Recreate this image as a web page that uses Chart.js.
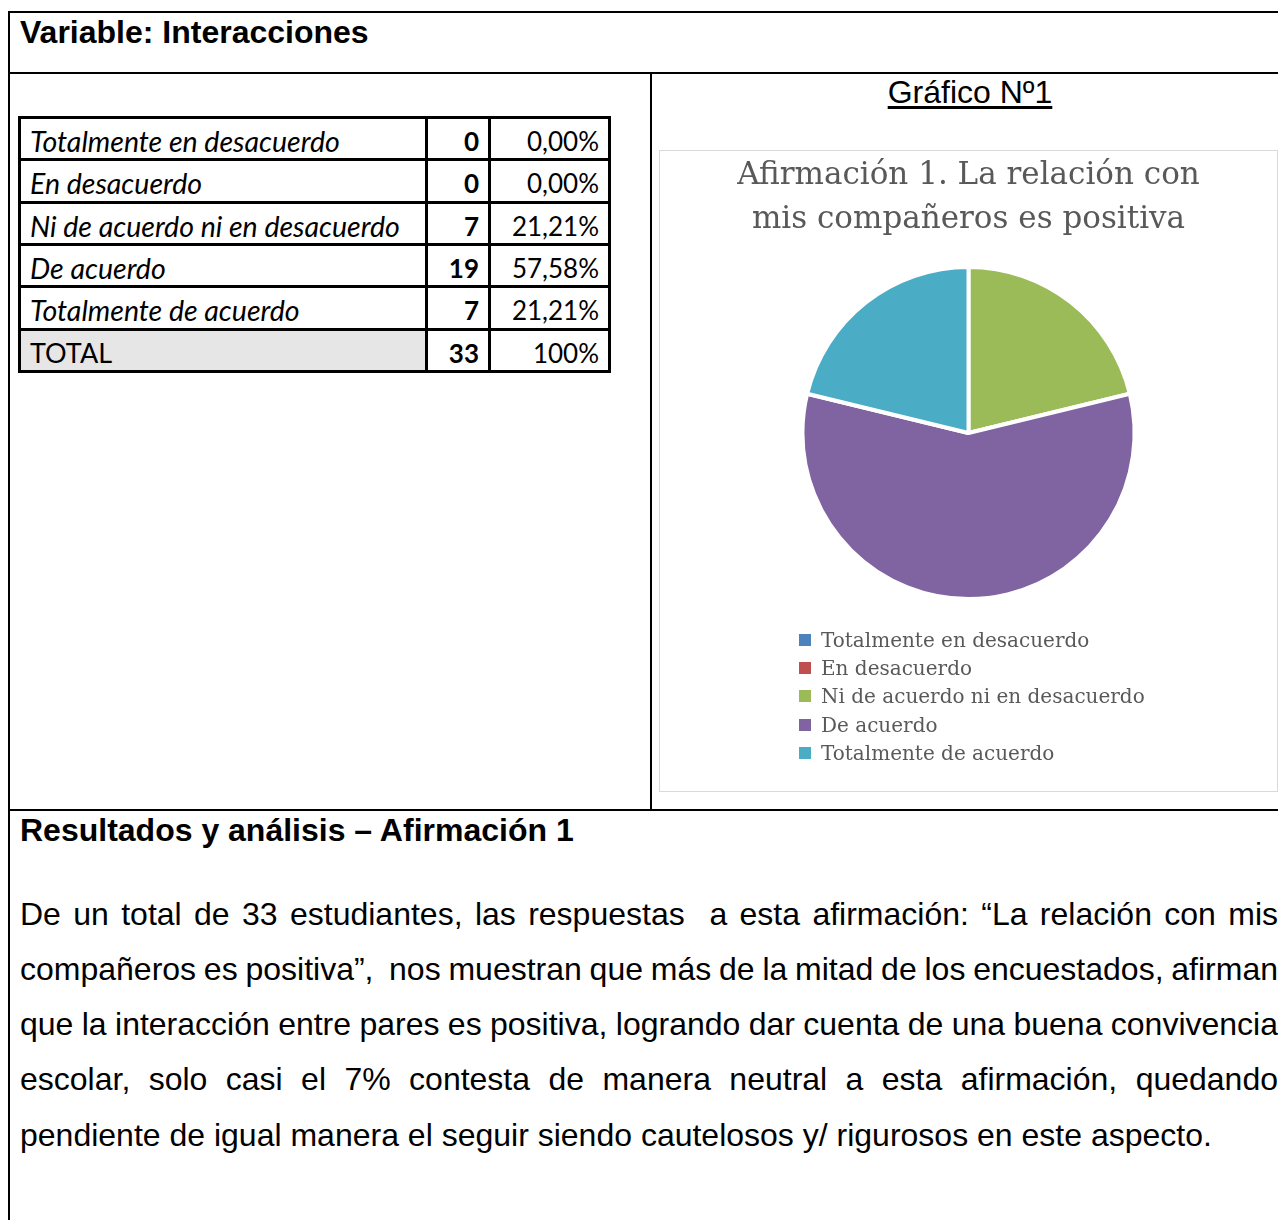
<!DOCTYPE html>
<html>
<head>
<meta charset="utf-8">
<script src="https://cdn.jsdelivr.net/npm/chart.js@4"></script>
<style>
  body { margin: 0; width: 1278px; height: 1220px; background: #fff; position: relative; overflow: hidden; font-family: "Liberation Sans", Arial, sans-serif; }
  .abs { position: absolute; }
  .hline { position: absolute; height: 2px; background: #000; }
  .vline { position: absolute; width: 2px; background: #000; }
  #grid { position: absolute; left: 18px; top: 116px; width: 593px; height: 257px; box-sizing: border-box; padding: 3px; background: #000;
          display: grid; grid-template-columns: 404px 60px 117px; grid-template-rows: repeat(6, 1fr); gap: 3px; }
  #grid div { background: #fff; font-family: Lato, "Open Sans", sans-serif; font-size: 26px; color: #000; display: flex; align-items: center; padding-top: 5px; box-sizing: border-box; white-space: nowrap; }
  #grid .lbl { font-style: italic; font-size: 28.5px; padding-left: 9px; }
  #grid .num { font-weight: bold; justify-content: flex-end; padding-right: 9px; }
  #grid .pct { justify-content: flex-end; padding-right: 9px; }
  #grid .tot { background: #e6e6e6; padding-left: 9px; font-size: 27px; }
  #chartBox { position: absolute; left: 659px; top: 150px; width: 619px; height: 642px; box-sizing: border-box; border: 1px solid #d9d9d9; }
  #legend { position: absolute; left: 799px; top: 626px; font-family: "DejaVu Serif", serif; font-size: 20px; color: #595959; }
  #legend .item { height: 28.2px; line-height: 28.2px; white-space: nowrap; }
  #legend .sw { display: inline-block; width: 12px; height: 12px; margin-right: 10px; vertical-align: 1px; }
  .para { position: absolute; left: 20px; width: 1258px; font-size: 32px; color: #000; white-space: nowrap; word-spacing: -2px; text-align: justify; text-align-last: justify; }
</style>
</head>
<body>
<div class="vline" style="left:8px;top:12px;height:1208px"></div>
<div class="hline" style="left:8px;top:11px;width:1270px"></div>
<div class="hline" style="left:8px;top:72px;width:1270px"></div>
<div class="vline" style="left:650px;top:72px;height:739px"></div>
<div class="hline" style="left:8px;top:809px;width:1270px"></div>

<div class="abs" style="left:20px;top:14px;font-size:32px;font-weight:bold;">Variable: Interacciones</div>
<div class="abs" style="left:657px;width:626px;top:74px;font-size:32px;text-align:center;"><span style="text-decoration:underline;text-underline-offset:3px;">Gráfico Nº1</span></div>

<div id="grid"></div>

<div id="chartBox"></div>
<canvas id="pieChart" class="abs" style="left:660px;top:151px" width="617" height="640"></canvas>
<div id="legend"></div>

<div class="abs" style="left:20px;top:812px;font-size:32px;font-weight:bold;">Resultados y análisis – Afirmación 1</div>
<div class="para" style="top:896px">De un total de 33 estudiantes, las respuestas&nbsp; a esta afirmación: “La relación con mis</div>
<div class="para" style="top:951px">compañeros es positiva”,&nbsp; nos muestran que más de la mitad de los encuestados, afirman</div>
<div class="para" style="top:1006px">que la interacción entre pares es positiva, logrando dar cuenta de una buena convivencia</div>
<div class="para" style="top:1061px">escolar, solo casi el 7% contesta de manera neutral a esta afirmación, quedando</div>
<div class="para" style="top:1117px;word-spacing:0;text-align:left;text-align-last:left;">pendiente de igual manera el seguir siendo cautelosos y/ rigurosos en este aspecto.</div>

<script>
const categories = ['Totalmente en desacuerdo', 'En desacuerdo', 'Ni de acuerdo ni en desacuerdo', 'De acuerdo', 'Totalmente de acuerdo'];
const counts = [0, 0, 7, 19, 7];
const percents = ['0,00%', '0,00%', '21,21%', '57,58%', '21,21%'];
const totalCount = 33;
const totalPercent = '100%';
const sliceColors = ['#4f81bd', '#c0504d', '#9bbb59', '#8064a2', '#4bacc6'];

// data table
const grid = document.getElementById('grid');
function cell(cls, text) {
  const d = document.createElement('div');
  d.className = cls;
  d.textContent = text;
  grid.appendChild(d);
}
categories.forEach((c, i) => {
  cell('lbl', c);
  cell('num', counts[i]);
  cell('pct', percents[i]);
});
cell('tot', 'TOTAL');
cell('num', totalCount);
cell('pct', totalPercent);

const ctx = document.getElementById('pieChart').getContext('2d');
const pieChart = new Chart(ctx, {
  type: 'pie',
  data: {
    labels: categories,
    datasets: [{
      data: counts,
      backgroundColor: sliceColors,
      borderColor: '#ffffff',
      borderWidth: 4
    }]
  },
  options: {
    responsive: false,
    animation: false,
    devicePixelRatio: 1,
    layout: { padding: { top: 0, bottom: 190, left: 0, right: 0 } },
    plugins: {
      legend: { display: false },
      tooltip: { enabled: false },
      title: {
        display: true,
        text: ['Afirmación 1. La relación con', 'mis compañeros es positiva'],
        color: '#595959',
        font: { family: 'DejaVu Serif', size: 31, weight: 'normal', lineHeight: 1.45 },
        padding: { top: 2, bottom: 22 }
      }
    }
  }
});

// legend list built from the chart's own legend items
const legend = document.getElementById('legend');
pieChart.options.plugins.legend.labels.generateLabels(pieChart).forEach(item => {
  const row = document.createElement('div');
  row.className = 'item';
  const sw = document.createElement('span');
  sw.className = 'sw';
  sw.style.background = item.fillStyle;
  row.appendChild(sw);
  row.appendChild(document.createTextNode(item.text));
  legend.appendChild(row);
});
</script>
</body>
</html>
